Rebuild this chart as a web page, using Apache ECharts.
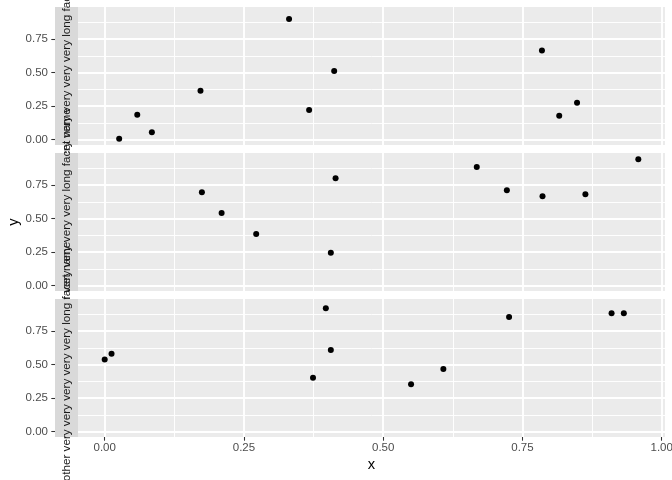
<!DOCTYPE html>
<html><head><meta charset="utf-8">
<script src="https://cdn.jsdelivr.net/npm/echarts@6/dist/echarts.min.js"></script>
<style>html,body{margin:0;padding:0;background:#fff}#c{width:672px;height:480px}</style>
</head><body><div id="c"></div>
<script>
// ---- data ----
const facetLabels = [
  'a very very very very very very long facet name',
  'another very very very very long facet name',
  'another very very very very very long facet name'
];
const x1 = [0.026, 0.0585, 0.0847, 0.172, 0.331, 0.367, 0.412, 0.785, 0.848, 0.816];
const y1 = [0.007, 0.186, 0.055, 0.365, 0.901, 0.221, 0.513, 0.665, 0.275, 0.178];
const x2 = [0.1745, 0.2099, 0.272, 0.4145, 0.406, 0.668, 0.722, 0.786, 0.863, 0.958];
const y2 = [0.697, 0.543, 0.385, 0.802, 0.245, 0.886, 0.712, 0.668, 0.682, 0.943];
const x3 = [0.000, 0.0123, 0.374, 0.397, 0.406, 0.550, 0.608, 0.726, 0.910, 0.932];
const y3 = [0.539, 0.581, 0.402, 0.921, 0.610, 0.353, 0.467, 0.856, 0.883, 0.883];
const xTicks = [0, 0.25, 0.5, 0.75, 1];
const xTickLabels = ['0.00', '0.25', '0.50', '0.75', '1.00'];
const yTicks = [0, 0.25, 0.5, 0.75];
const yTickLabels = ['0.00', '0.25', '0.50', '0.75'];
const xMinor = [0.125, 0.375, 0.625, 0.875];
const yMinor = [0.125, 0.375, 0.625, 0.875];
const xTitle = 'x';
const yTitle = 'y';

// ---- layout ----
const FONT = '"Liberation Sans", Arial, Helvetica, sans-serif';
const panelLeft = 78, panelRight = 7;
const panelTops = [7, 153, 299];
const panelH = 138;
const stripW = 23;

const xs = [x1, x2, x3], ys = [y1, y2, y3];
function expand(arrs) {
  const all = [].concat(...arrs);
  const lo = Math.min(...all), hi = Math.max(...all);
  const pad = (hi - lo) * 0.05;
  return [lo - pad, hi + pad];
}
const [xMin, xMax] = expand(xs);
const [yMin, yMax] = expand(ys);

function lab(ticks, labels) {
  return v => { const i = ticks.findIndex(t => Math.abs(t - v) < 1e-9); return i < 0 ? '' : labels[i]; };
}

const grids = [], xAxes = [], yAxes = [], series = [], graphics = [];
panelTops.forEach((top, i) => {
  grids.push({ left: panelLeft, right: panelRight, top: top, height: panelH, show: true,
    backgroundColor: '#EBEBEB', borderWidth: 0, containLabel: false, outerBoundsMode: 'none' });
  const isBottom = i === panelTops.length - 1;
  xAxes.push({
    type: 'value', gridIndex: i, min: xMin, max: xMax, position: 'bottom',
    axisLine: { show: false, onZero: false },
    axisTick: { show: isBottom, customValues: xTicks, length: 3.7, lineStyle: { color: '#333333', width: 1.07 } },
    axisLabel: { show: isBottom, customValues: xTicks, formatter: lab(xTicks, xTickLabels),
      color: '#4D4D4D', fontSize: 11.5, fontFamily: FONT, margin: 4.5 },
    splitLine: { show: true, lineStyle: { color: '#FFFFFF', width: 1.9 } },
    name: isBottom ? xTitle : '', nameLocation: 'middle', nameGap: 20,
    nameTextStyle: { fontSize: 14.7, color: '#000000', fontFamily: FONT }
  });
  xAxes.push({
    type: 'value', gridIndex: i, min: xMin, max: xMax, position: 'top',
    axisLine: { show: false, onZero: false },
    axisTick: { show: false, customValues: xMinor },
    axisLabel: { show: false, customValues: xMinor },
    splitLine: { show: true, lineStyle: { color: '#FFFFFF', width: 0.95 } }
  });
  yAxes.push({
    type: 'value', gridIndex: i, min: yMin, max: yMax, position: 'left', offset: stripW,
    axisLine: { show: false, onZero: false },
    axisTick: { show: true, customValues: yTicks, length: 3.7, lineStyle: { color: '#333333', width: 1.07 } },
    axisLabel: { show: true, customValues: yTicks, formatter: lab(yTicks, yTickLabels),
      color: '#4D4D4D', fontSize: 11.5, fontFamily: FONT, margin: 7 },
    splitLine: { show: true, lineStyle: { color: '#FFFFFF', width: 1.9 } }
  });
  yAxes.push({
    type: 'value', gridIndex: i, min: yMin, max: yMax, position: 'right',
    axisLine: { show: false, onZero: false },
    axisTick: { show: false, customValues: yMinor },
    axisLabel: { show: false, customValues: yMinor },
    splitLine: { show: true, lineStyle: { color: '#FFFFFF', width: 0.95 } }
  });
  series.push({
    type: 'scatter', xAxisIndex: 2 * i, yAxisIndex: 2 * i, symbol: 'circle', symbolSize: 6,
    itemStyle: { color: '#000000', opacity: 1 }, silent: true, z: 5,
    data: xs[i].map((x, k) => [x, ys[i][k]])
  });
  graphics.push({
    type: 'rect', z: 100 + 2 * i,
    shape: { x: panelLeft - stripW, y: top, width: stripW, height: panelH },
    style: { fill: '#D9D9D9' }
  });
  graphics.push({
    type: 'text', z: 101 + 2 * i,
    x: panelLeft - stripW / 2, y: top + panelH / 2, rotation: Math.PI / 2,
    style: { text: facetLabels[i], fill: '#1A1A1A', fontSize: 11.7, fontFamily: FONT,
      textAlign: 'center', textVerticalAlign: 'middle', align: 'center', verticalAlign: 'middle' }
  });
});
graphics.push({
  type: 'text', z: 120,
  x: 13.5, y: panelTops[0] + (panelTops[2] + panelH - panelTops[0]) / 2, rotation: Math.PI / 2,
  style: { text: yTitle, fill: '#000000', fontSize: 14.7, fontFamily: FONT,
    textAlign: 'center', textVerticalAlign: 'middle', align: 'center', verticalAlign: 'middle' }
});

const chart = echarts.init(document.getElementById('c'), null, { renderer: 'canvas' });
chart.setOption({
  animation: false,
  backgroundColor: '#FFFFFF',
  grid: grids, xAxis: xAxes, yAxis: yAxes, series: series, graphic: graphics
});
</script>
</body></html>
